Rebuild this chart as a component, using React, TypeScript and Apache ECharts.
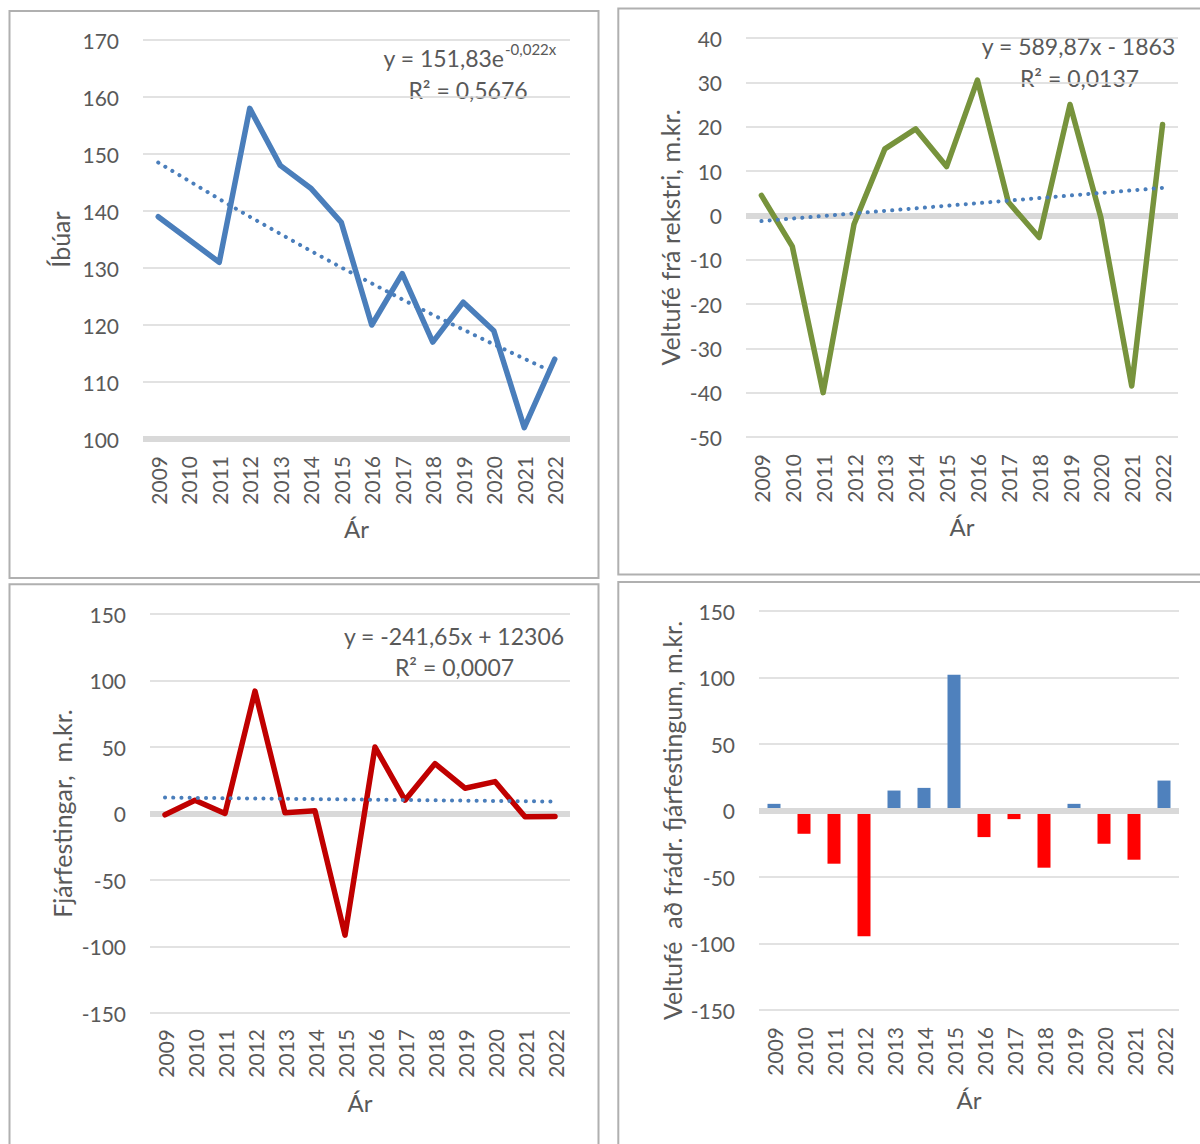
import React, { useEffect, useRef } from 'react';
import * as echarts from 'echarts';

// ---- data ----
const years = ['2009', '2010', '2011', '2012', '2013', '2014', '2015', '2016', '2017', '2018', '2019', '2020', '2021', '2022'];
const residents = [139, 135, 131, 158, 148, 144, 138, 120, 129, 117, 124, 119, 102, 114];
const residentsTrend = [148.5, 145.3, 142.1, 139.0, 136.0, 133.0, 130.1, 127.3, 124.5, 121.8, 119.2, 116.6, 114.1, 111.6];
const cashFromOps = [4.5, -7, -40, -2, 15, 19.5, 11, 30.5, 3, -5, 25, -0.5, -38.5, 20.5];
const cashFromOpsTrendEnds = [-1.3, 6.2];
const investments = [-1, 10, 0, 92, 0.5, 2, -91.5, 50, 10, 37.5, 19, 24, -2.5, -2.2];
const investmentsTrendEnds = [12, 9];
const netCash = [5, -17.5, -40, -94.5, 15, 17, 102, -20, -6.5, -43, 5, -25, -37, 22.5];

const yNames = ['Íbúar', 'Veltufé frá rekstri, m.kr.', 'Fjárfestingar,  m.kr.', 'Veltufé  að frádr. fjárfestingum, m.kr.'];
const xName = 'Ár';

const FONT = 'Lato';
const TXT = '#595959';
const GRID_LINE = '#d9d9d9';
const BLUE = '#4a7ebb';
const GREEN = '#77933c';
const DARK_RED = '#c00000';
const BAR_BLUE = '#4f81bd';
const BAR_RED = '#ff0000';
const TREND = '#4a7ebb';

const grids = [
  { left: 143, top: 40, width: 427, height: 399 },
  { left: 746, top: 38, width: 432, height: 399 },
  { left: 150, top: 614, width: 420, height: 399 },
  { left: 759, top: 611, width: 420, height: 399 },
];

function xAxesFor(gridIndex: number, labelMargin: number, lineZ: number) {
  return [
    {
      type: 'category',
      gridIndex,
      data: years,
      position: 'bottom',
      axisLine: { show: true, onZero: true, lineStyle: { color: GRID_LINE, width: 6, cap: 'butt' } },
      axisTick: { show: false },
      axisLabel: { show: false },
      splitLine: { show: false },
      z: lineZ,
    },
    {
      type: 'category',
      gridIndex,
      data: years,
      position: 'bottom',
      axisLine: { show: false, onZero: false },
      axisTick: { show: false },
      axisLabel: { rotate: 90, interval: 0, margin: labelMargin, color: TXT, fontFamily: FONT, fontSize: 21 },
      splitLine: { show: false },
      name: xName,
      nameLocation: 'middle',
      nameGap: 77,
      nameTextStyle: { color: TXT, fontFamily: FONT, fontSize: 24 },
    },
  ];
}

function yAxisFor(gridIndex: number, min: number, max: number, interval: number, name: string, nameGap: number, shift: number) {
  return {
    type: 'value',
    gridIndex,
    min,
    max,
    interval,
    axisLine: { show: false },
    axisTick: { show: false },
    axisLabel: { color: TXT, fontFamily: FONT, fontSize: 21, margin: 24 },
    splitLine: { show: true, lineStyle: { color: GRID_LINE, width: 1.5 } },
    name,
    nameLocation: 'middle',
    nameRotate: 90,
    nameGap,
    nameTextStyle: { color: TXT, fontFamily: FONT, fontSize: 25, padding: [0, shift, 0, 0] },
  };
}

function trendStyle() {
  return { color: TREND, width: 4, type: [0.1, 8.1], cap: 'round' };
}

function textEl(text: string, x: number, y: number, size: number, align: string) {
  return {
    type: 'text',
    x,
    y,
    silent: true,
    style: {
      text,
      fill: TXT,
      font: `${size}px ${FONT}`,
      fontSize: size,
      fontFamily: FONT,
      textAlign: align,
      align,
      textVerticalAlign: 'middle',
      verticalAlign: 'middle',
    },
  };
}

function borderEl(x: number, y: number, w: number, h: number) {
  return {
    type: 'rect',
    silent: true,
    shape: { x, y, width: w, height: h },
    style: { fill: 'none', stroke: '#b0b0b0', lineWidth: 2 },
  };
}

export default function App() {
  const ref = useRef<HTMLDivElement>(null);

  useEffect(() => {
    if (!ref.current) return;
    const chart = echarts.init(ref.current, undefined, { renderer: 'svg' });

    const option = {
      animation: false,
      backgroundColor: '#ffffff',
      grid: grids,
      xAxis: [
        ...xAxesFor(0, 17, 0),
        ...xAxesFor(1, 17, 0),
        ...xAxesFor(2, 16, 0),
        ...xAxesFor(3, 17, 5),
      ],
      yAxis: [
        yAxisFor(0, 100, 170, 10, yNames[0], 71, 0),
        yAxisFor(1, -50, 40, 10, yNames[1], 64, 0),
        yAxisFor(2, -150, 150, 50, yNames[2], 76, 0),
        yAxisFor(3, -150, 150, 50, yNames[3], 75, 20),
      ],
      series: [
        {
          type: 'line',
          xAxisIndex: 0,
          yAxisIndex: 0,
          data: residents,
          symbol: 'none',
          lineStyle: { color: BLUE, width: 5.5, cap: 'round', join: 'round' },
        },
        {
          type: 'line',
          xAxisIndex: 0,
          yAxisIndex: 0,
          data: residentsTrend,
          symbol: 'none',
          z: 3,
          lineStyle: trendStyle(),
        },
        {
          type: 'line',
          xAxisIndex: 2,
          yAxisIndex: 1,
          data: cashFromOps,
          symbol: 'none',
          lineStyle: { color: GREEN, width: 5.5, cap: 'round', join: 'round' },
        },
        {
          type: 'line',
          xAxisIndex: 2,
          yAxisIndex: 1,
          data: [[years[0], cashFromOpsTrendEnds[0]], [years[years.length - 1], cashFromOpsTrendEnds[1]]],
          symbol: 'none',
          z: 3,
          lineStyle: trendStyle(),
        },
        {
          type: 'line',
          xAxisIndex: 4,
          yAxisIndex: 2,
          data: investments,
          symbol: 'none',
          lineStyle: { color: DARK_RED, width: 5.5, cap: 'round', join: 'round' },
        },
        {
          type: 'line',
          xAxisIndex: 4,
          yAxisIndex: 2,
          data: [[years[0], investmentsTrendEnds[0]], [years[years.length - 1], investmentsTrendEnds[1]]],
          symbol: 'none',
          z: 3,
          lineStyle: trendStyle(),
        },
        {
          type: 'bar',
          xAxisIndex: 6,
          yAxisIndex: 3,
          barWidth: 13,
          data: netCash.map((v) => ({ value: v, itemStyle: { color: v >= 0 ? BAR_BLUE : BAR_RED } })),
        },
      ],
      graphic: [
        borderEl(9.5, 11, 589, 567),
        borderEl(618.3, 8.5, 600, 566),
        borderEl(9.5, 584.3, 589, 600),
        borderEl(618.3, 582, 600, 600),
        textEl('y = 151,83e', 504, 57.5, 23, 'right'),
        textEl('-0,022x', 505, 49, 15, 'left'),
        textEl('R² = 0,5676', 468, 90, 23, 'center'),
        textEl('y = 589,87x - 1863', 1078.5, 45.5, 23, 'center'),
        textEl('R² = 0,0137', 1079.5, 78, 23, 'center'),
        textEl('y = -241,65x + 12306', 454, 635.5, 23, 'center'),
        textEl('R² = 0,0007', 454.5, 666.5, 23, 'center'),
      ],
    };

    chart.setOption(option as any);
    return () => chart.dispose();
  }, []);

  return (
    <div
      ref={ref}
      style={{ position: 'absolute', left: 0, top: 0, width: 1200, height: 1144, background: '#fff' }}
    />
  );
}
